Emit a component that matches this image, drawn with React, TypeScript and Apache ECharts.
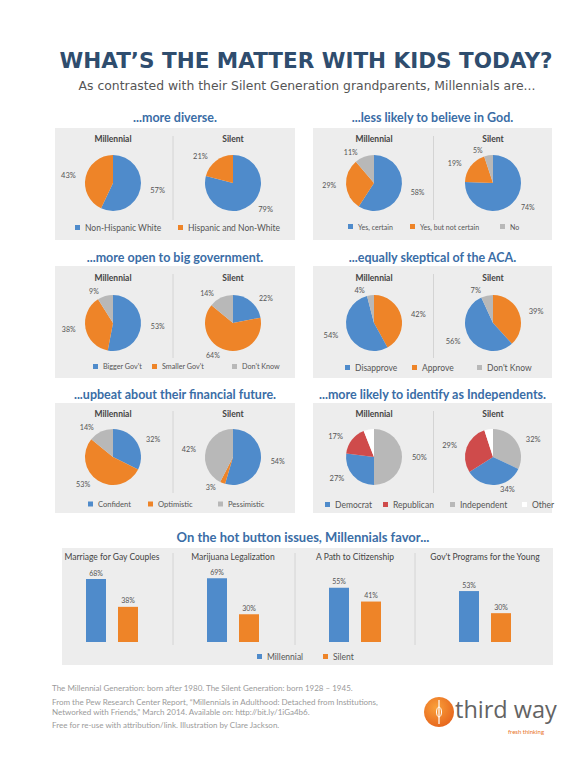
import React, { useEffect, useRef } from 'react';
import * as echarts from 'echarts';

// ---------- data ----------
const diverseNames = ['Non-Hispanic White', 'Hispanic and Non-White'];
const diverseMillennial = [57, 43];
const diverseSilent = [79, 21];

const godNames = ['Yes, certain', 'Yes, but not certain', 'No'];
const godMillennial = [58, 29, 11];
const godSilent = [74, 19, 5];

const govNames = ["Bigger Gov't", "Smaller Gov't", "Don't Know"];
const govMillennial = [53, 38, 9];
const govSilent = [22, 64, 14];

const acaLegend = ['Disapprove', 'Approve', "Don't Know"];
const acaNames = ['Approve', 'Disapprove', "Don't Know"]; // clockwise from 12 o'clock
const acaMillennial = [42, 54, 4];
const acaSilent = [39, 56, 7];

const finNames = ['Confident', 'Optimistic', 'Pessimistic'];
const finMillennial = [32, 53, 14];
const finSilent = [54, 3, 42];

const partyLegend = ['Democrat', 'Republican', 'Independent', 'Other'];
const partyNames = ['Independent', 'Democrat', 'Republican', 'Other']; // clockwise from 12 o'clock
const partyMillennial = [50, 27, 17, 6];
const partySilent = [32, 34, 29, 5];

const issues = ['Marriage for Gay Couples', 'Marijuana Legalization', 'A Path to Citizenship', "Gov't Programs for the Young"];
const issueMillennial = [68, 69, 55, 53];
const issueSilent = [38, 30, 41, 30];
const seriesNames = ['Millennial', 'Silent'];

const headings = [
  '...more diverse.',
  '...less likely to believe in God.',
  '...more open to big government.',
  '...equally skeptical of the ACA.',
  '...upbeat about their financial future.',
  '...more likely to identify as Independents.',
];

const footerLines = [
  'The Millennial Generation: born after 1980. The Silent Generation: born 1928 \u2013 1945.',
  'From the Pew Research Center Report, \u201cMillennials in Adulthood: Detached from Institutions,',
  'Networked with Friends,\u201d March 2014. Available on: http://bit.ly/1iGa4b6.',
  'Free for re-use with attribution/link. Illustration by Clare Jackson.',
];

// ---------- styles ----------
const BLUE = '#4F8BCB';
const ORANGE = '#EE8428';
const GRAY = '#B8B8B8';
const RED = '#CF4B4B';
const COLORS: Record<string, string> = {
  'Non-Hispanic White': BLUE,
  'Hispanic and Non-White': ORANGE,
  'Yes, certain': BLUE,
  'Yes, but not certain': ORANGE,
  No: GRAY,
  "Bigger Gov't": BLUE,
  "Smaller Gov't": ORANGE,
  "Don't Know": GRAY,
  Disapprove: BLUE,
  Approve: ORANGE,
  Confident: BLUE,
  Optimistic: ORANGE,
  Pessimistic: GRAY,
  Democrat: BLUE,
  Republican: RED,
  Independent: GRAY,
  Other: '#FFFFFF',
};
const FONT = 'Lato, "Open Sans", sans-serif';
const PANEL_BG = '#EDEDED';
const HEAD_COLOR = '#3A6DA6';

export default function App() {
  const ref = useRef<HTMLDivElement>(null);
  useEffect(() => {
    if (!ref.current) return;
    const chart = echarts.init(ref.current, undefined, { renderer: 'svg' });

    const pie = (names: string[], values: number[], cx: number, cy: number, fs: number) => ({
      type: 'pie',
      radius: 28,
      center: [cx, cy],
      startAngle: 90,
      clockwise: true,
      silent: true,
      avoidLabelOverlap: true,
      label: {
        show: true,
        position: 'outside',
        formatter: '{c}%',
        fontSize: fs,
        color: '#555',
        fontFamily: FONT,
      },
      labelLine: { show: false, length: 5, length2: 0 },
      emphasis: { disabled: true },
      data: names.map((n, i) => ({
        name: n,
        value: values[i],
        itemStyle: { color: COLORS[n] },
        label: n === 'Other' ? { show: false } : undefined,
      })),
    });

    const legendItem = (name: string, x: number, y: number, fs: number) => ({
      top: y,
      left: x,
      data: [name],
      icon: 'rect',
      itemWidth: 5,
      itemHeight: 5,
      itemGap: 0,
      selectedMode: false,
      padding: 0,
      textStyle: { fontSize: fs, color: '#555', fontFamily: FONT },
    });

    // panel layout
    const colX = [55, 313];
    const rowY = [128, 266, 403];
    const panelW = [240, 239];
    const panelH = [112, 112, 110];
    const pieCX = [[113, 233], [374, 493]];
    const pieCY = [183, 323, 457];
    const headY = [117, 257, 394];
    const subY = [139, 278, 414];
    const legendY = [223, 363, 500];

    const pieSets = [
      [diverseNames, diverseMillennial, diverseSilent],
      [godNames, godMillennial, godSilent],
      [govNames, govMillennial, govSilent],
      [acaNames, acaMillennial, acaSilent],
      [finNames, finMillennial, finSilent],
      [partyNames, partyMillennial, partySilent],
    ] as [string[], number[], number[]][];
    const legendData = [diverseNames, godNames, govNames, acaLegend, finNames, partyLegend];
    const legendXs = [
      [75, 178],
      [348, 410, 500],
      [93, 152, 232],
      [345, 412, 477],
      [88, 148, 218],
      [325, 383, 450, 522],
    ];
    const legendFont = [8.5, 7, 7.2, 8.5, 7.6, 8.5];
    const labelFont = [7.5, 7, 7, 7.5, 7.2, 7.5];

    const series: any[] = [];
    const legends: any[] = [];
    const graphics: any[] = [];

    pieSets.forEach(([names, m, s], k) => {
      const r = Math.floor(k / 2);
      const c = k % 2;
      const px = colX[c];
      const py = rowY[r];
      graphics.push({
        type: 'rect',
        shape: { x: px, y: py, width: panelW[c], height: panelH[r] },
        style: { fill: PANEL_BG },
        z: -10,
      });
      const sepX = (pieCX[c][0] + pieCX[c][1]) / 2;
      graphics.push({
        type: 'line',
        shape: { x1: sepX, y1: py + 8, x2: sepX, y2: py + panelH[r] - 20 },
        style: { stroke: '#D4D4D4', lineWidth: 1 },
        z: -9,
      });
      graphics.push({
        type: 'text',
        style: {
          text: headings[k], x: px + panelW[c] / 2, y: headY[r], fontSize: 12.5, fontWeight: 'bold',
          fill: HEAD_COLOR, fontFamily: FONT, textAlign: 'center', align: 'center', textVerticalAlign: 'middle', verticalAlign: 'middle',
        },
      });
      ['Millennial', 'Silent'].forEach((t, j) => {
        graphics.push({
          type: 'text',
          style: {
            text: t, x: pieCX[c][j], y: subY[r], fontSize: 8.5, fontWeight: 'bold', fill: '#444', fontFamily: FONT,
            textAlign: 'center', align: 'center', textVerticalAlign: 'middle', verticalAlign: 'middle',
          },
        });
      });
      series.push(pie(names, m, pieCX[c][0], pieCY[r], labelFont[k]));
      series.push(pie(names, s, pieCX[c][1], pieCY[r], labelFont[k]));
      legendData[k].forEach((n, j) => legends.push(legendItem(n, legendXs[k][j], legendY[r], legendFont[k])));
    });

    // ---------- bar section ----------
    const barPanel = { x: 62, y: 548, w: 491, h: 117 };
    graphics.push({
      type: 'rect',
      shape: { x: barPanel.x, y: barPanel.y, width: barPanel.w, height: barPanel.h },
      style: { fill: PANEL_BG },
      z: -10,
    });
    graphics.push({
      type: 'text',
      style: {
        text: 'On the hot button issues, Millennials favor...', x: 303, y: 537, fontSize: 13, fontWeight: 'bold',
        fill: HEAD_COLOR, fontFamily: FONT, textAlign: 'center', align: 'center', textVerticalAlign: 'middle', verticalAlign: 'middle',
      },
    });
    [173, 295, 415].forEach((x) => {
      graphics.push({
        type: 'line',
        shape: { x1: x, y1: 553, x2: x, y2: 645 },
        style: { stroke: '#D4D4D4', lineWidth: 1 },
        z: -9,
      });
    });
    const barCenters = [112, 233, 355, 485];
    const barMax = [80, 80, 75, 77];
    const grids: any[] = [];
    const xAxes: any[] = [];
    const yAxes: any[] = [];
    issues.forEach((iss, i) => {
      graphics.push({
        type: 'text',
        style: {
          text: iss, x: barCenters[i], y: 557, fontSize: 8.5, fill: '#444', fontFamily: FONT,
          textAlign: 'center', align: 'center', textVerticalAlign: 'middle', verticalAlign: 'middle',
        },
      });
      grids.push({ left: barCenters[i] - 32, width: 64, top: 568, height: 74 });
      xAxes.push({ type: 'category', gridIndex: i, data: [iss], show: false });
      yAxes.push({ type: 'value', gridIndex: i, min: 0, max: barMax[i], show: false, splitLine: { show: false } });
      [issueMillennial, issueSilent].forEach((vals, j) => {
        series.push({
          type: 'bar',
          name: seriesNames[j],
          xAxisIndex: i,
          yAxisIndex: i,
          data: [vals[i]],
          barWidth: 20,
          barGap: '60%',
          silent: true,
          itemStyle: { color: j === 0 ? BLUE : ORANGE },
          label: { show: true, position: 'top', formatter: '{c}%', fontSize: 7, color: '#555', fontFamily: FONT, distance: 3 },
        });
      });
    });
    legends.push(legendItem(seriesNames[0], 257, 652, 8.5));
    legends.push(legendItem(seriesNames[1], 323, 652, 8.5));

    // ---------- title ----------
    graphics.push({
      type: 'text',
      style: {
        text: 'WHAT\u2019S THE MATTER WITH KIDS TODAY?', x: 306, y: 60, fontSize: 21.5, fontWeight: 'bold',
        fill: '#2F4D6E', fontFamily: '"DejaVu Sans", sans-serif', textAlign: 'center', align: 'center',
        textVerticalAlign: 'middle', verticalAlign: 'middle',
      },
    });
    graphics.push({
      type: 'text',
      style: {
        text: 'As contrasted with their Silent Generation grandparents, Millennials are...', x: 307, y: 85, fontSize: 12.4,
        fill: '#555', fontFamily: '"DejaVu Sans", sans-serif', textAlign: 'center', align: 'center', textVerticalAlign: 'middle', verticalAlign: 'middle',
      },
    });

    // ---------- footer ----------
    const footY = [688, 702, 712, 725];
    footerLines.forEach((t, i) => {
      graphics.push({
        type: 'text',
        style: { text: t, x: 52, y: footY[i], fontSize: 8, fill: '#9A9A9A', fontFamily: FONT, textVerticalAlign: 'middle', verticalAlign: 'middle' },
      });
    });
    graphics.push({
      type: 'circle',
      shape: { cx: 439, cy: 712, r: 15 },
      style: {
        fill: new echarts.graphic.RadialGradient(0.4, 0.35, 0.75, [
          { offset: 0, color: '#F9A03A' },
          { offset: 1, color: '#E5601A' },
        ]),
      },
    });
    graphics.push({
      type: 'line',
      shape: { x1: 439, y1: 700, x2: 439, y2: 724 },
      style: { stroke: '#FFFFFF', lineWidth: 1.2 },
    });
    graphics.push({
      type: 'ellipse',
      shape: { cx: 439, cy: 712, rx: 2.5, ry: 5 },
      style: { fill: 'none', stroke: '#FFFFFF', lineWidth: 1 },
    });
    graphics.push({
      type: 'text',
      style: {
        text: 'third way', x: 455, y: 709, fontSize: 23.5, fill: '#636363', fontFamily: '"Open Sans", sans-serif',
        textVerticalAlign: 'middle', verticalAlign: 'middle',
      },
    });
    graphics.push({
      type: 'text',
      style: {
        text: 'fresh thinking', x: 526, y: 731, fontSize: 6, fill: '#E8701E', fontFamily: FONT,
        textAlign: 'center', align: 'center', textVerticalAlign: 'middle', verticalAlign: 'middle',
      },
    });

    chart.setOption({
      animation: false,
      backgroundColor: '#FFFFFF',
      grid: grids,
      xAxis: xAxes,
      yAxis: yAxes,
      legend: legends,
      series,
      graphic: graphics,
    });
    return () => chart.dispose();
  }, []);

  return <div ref={ref} style={{ position: 'absolute', left: 0, top: 0, width: 578, height: 758 }} />;
}
